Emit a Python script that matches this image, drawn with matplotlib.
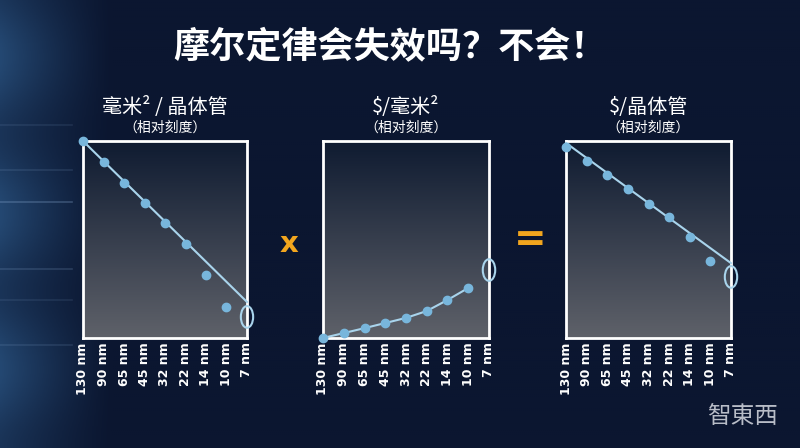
import numpy as np
import matplotlib.pyplot as plt
from matplotlib.patches import Ellipse
from matplotlib.colors import LinearSegmentedColormap

plt.rcParams['font.family'] = ['Noto Sans CJK SC', 'DejaVu Sans']

# data (relative scale, 0 = bottom of box, 1 = top)
nodes = ['130 nm', '90 nm', '65 nm', '45 nm', '32 nm', '22 nm', '14 nm', '10 nm', '7 nm']
area_per_tr = [1.0, 0.893, 0.787, 0.685, 0.584, 0.477, 0.320, 0.157]
area_trend = [1.0, 0.183]
area_7nm = 0.107
cost_per_area = [0.0, 0.025, 0.05, 0.076, 0.102, 0.137, 0.193, 0.254]
cost_area_7nm = 0.345
cost_per_tr = [0.97, 0.898, 0.827, 0.756, 0.68, 0.614, 0.513, 0.391]
cost_trend = [0.99, 0.38]
cost_tr_7nm = 0.31

titles = ['毫米² / 晶体管', '$/毫米²', '$/晶体管']
subtitle = '（相对刻度）'

W, H = 800, 448
fig = plt.figure(figsize=(8, 4.48), dpi=100)

# background
bg = fig.add_axes([0, 0, 1, 1])
bg.set_axis_off()
xx = np.linspace(0, 1, 400)
yy = np.linspace(0, 1, 224)
X, Y = np.meshgrid(xx, yy)
left_glow = np.clip(1 - X / 0.14, 0, 1) ** 1.2 * (0.6 + 0.4 * np.sin(Y * 9) ** 2)
bg_cmap = LinearSegmentedColormap.from_list('bg', ['#0b1630', '#2a5482'])
bg.imshow(left_glow * 0.8, cmap=bg_cmap, vmin=0, vmax=1, extent=[0, 1, 0, 1],
          aspect='auto', origin='lower')
# a few streaks on the left
for yv, a in [(0.55, 0.3), (0.62, 0.15), (0.40, 0.2), (0.33, 0.12), (0.72, 0.12), (0.23, 0.15)]:
    bg.plot([0, 0.09], [yv, yv], color='#8fb0d8', lw=1.2, alpha=a)
bg.set_xlim(0, 1)
bg.set_ylim(0, 1)

fig.text(0.487, 1 - 47 / H, '摩尔定律会失效吗？不会！', color='white', fontsize=26,
         fontweight='bold', ha='center', va='center')

panel_cmap = LinearSegmentedColormap.from_list('panel', ['#5e6169', '#0f1b31'])
boxes = [(83, 164), (323, 166), (566, 165)]
top, bottom = 141, 338

line_c = '#a9d4ec'
pt_c = '#78b6dc'

axes = []
for (x0, w), title in zip(boxes, titles):
    ax = fig.add_axes([x0 / W, 1 - bottom / H, w / W, (bottom - top) / H])
    ax.imshow(np.linspace(0, 1, 100).reshape(-1, 1), cmap=panel_cmap, extent=[0, 8, 0, 1],
              aspect='auto', origin='lower', zorder=0)
    ax.set_xlim(0, 8)
    ax.set_ylim(0, 1)
    ax.set_xticks(range(len(nodes)))
    ax.set_xticklabels(nodes, rotation=90, color='white', fontsize=9, fontweight='bold',
                       family=['DejaVu Sans'])
    ax.tick_params(axis='x', length=0, pad=3)
    ax.set_yticks([])
    for s in ax.spines.values():
        s.set_color('white')
        s.set_linewidth(2)
    cx = (x0 + w / 2) / W
    fig.text(cx, 1 - 107 / H, title, color='white', fontsize=14.5, ha='center', va='center')
    fig.text(cx, 1 - 128 / H, subtitle, color='white', fontsize=10, ha='center', va='center')
    axes.append(ax)

idx = np.arange(len(area_per_tr))

def ring(ax, y):
    ax.add_patch(Ellipse((8, y), 0.6, 0.11, fill=False, edgecolor=line_c, lw=1.5,
                         clip_on=False, zorder=5))

ax = axes[0]
ax.plot([0, 8], area_trend, color=line_c, lw=1.5, zorder=3, clip_on=False)
ax.plot(idx, area_per_tr, 'o', color=pt_c, ms=6, zorder=4, clip_on=False)
ring(ax, area_7nm)

ax = axes[1]
ax.plot(idx, cost_per_area, '-o', color=line_c, mfc=pt_c, mec=pt_c, lw=1.5, ms=6,
        zorder=4, clip_on=False)
ring(ax, cost_area_7nm)

ax = axes[2]
ax.plot([0, 8], cost_trend, color=line_c, lw=1.5, zorder=3, clip_on=False)
ax.plot(idx, cost_per_tr, 'o', color=pt_c, ms=6, zorder=4, clip_on=False)
ring(ax, cost_tr_7nm)

# operators
fig.text(289 / W, 1 - 244 / H, 'x', color='#f2a61e', fontsize=21, fontweight='bold',
         ha='center', va='center', family=['DejaVu Sans'])
fig.text(530 / W, 1 - 240 / H, '=', color='#f2a61e', fontsize=28, fontweight='bold',
         ha='center', va='center', family=['DejaVu Sans'])

# watermark
fig.text(742 / W, 1 - 416 / H, '智東西', color='#d8dbe3', fontsize=17, ha='center',
         va='center', family=['Noto Sans CJK TC', 'Noto Sans CJK SC'], alpha=0.85)

fig.savefig('out.png', dpi=100, facecolor='#0b1630')
